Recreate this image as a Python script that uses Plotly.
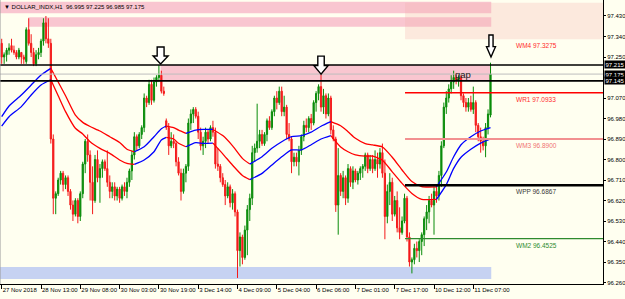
import plotly.graph_objects as go

# ---------------- data ----------------
title_text = "▼ DOLLAR_INDX,H1  96.995 97.225 96.985 97.175"
time_labels = ["27 Nov 2018", "28 Nov 13:00", "29 Nov 08:00", "30 Nov 03:00", "30 Nov 19:00",
               "3 Dec 14:00", "4 Dec 09:00", "5 Dec 04:00", "6 Dec 06:00", "7 Dec 01:00",
               "7 Dec 17:00", "10 Dec 12:00", "11 Dec 07:00"]
time_label_bars = [0, 16, 32, 48, 64, 80, 96, 112, 128, 144, 160, 176, 192]
price_ticks = [97.43, 97.34, 97.25, 97.07, 96.98, 96.89, 96.80, 96.71, 96.62, 96.53, 96.44, 96.35, 96.26]
boxed_prices = [97.215, 97.175, 97.145]

opens = [97.31, 97.25, 97.26, 97.28, 97.30, 97.28, 97.27, 97.25, 97.27, 97.25,
         97.23, 97.37, 97.31, 97.27, 97.22, 97.26, 97.27, 97.32, 97.40, 97.33,
         97.31, 96.89, 96.63, 96.65, 96.71, 96.74, 96.69, 96.72, 96.66, 96.60,
         96.56, 96.62, 96.55, 96.65, 96.78, 96.88, 96.82, 96.70, 96.62, 96.80,
         96.72, 96.76, 96.79, 96.76, 96.70, 96.66, 96.68, 96.64, 96.67, 96.63,
         96.68, 96.66, 96.70, 96.75, 96.82, 96.90, 96.86, 96.91, 96.94, 97.07,
         97.05, 97.13, 97.06, 97.14, 97.16, 97.17, 97.10, 96.97, 96.94, 96.86,
         96.88, 96.87, 96.79, 96.74, 96.66, 96.74, 96.77, 96.96, 97.00, 97.02,
         96.99, 96.92, 96.86, 96.88, 96.92, 96.89, 96.94, 96.92, 96.78, 96.77,
         96.72, 96.69, 96.64, 96.68, 96.61, 96.65, 96.57, 96.40, 96.46, 96.37,
         96.49, 96.58, 96.63, 96.83, 96.85, 96.88, 96.91, 96.87, 96.91, 96.97,
         96.94, 97.01, 97.07, 97.05, 97.10, 97.01, 97.03, 96.91, 96.89, 96.79,
         96.81, 96.79, 96.84, 96.90, 96.95, 96.94, 96.98, 96.96, 97.05, 97.09,
         97.12, 97.03, 97.08, 97.00, 97.07, 96.93, 96.89, 96.60, 96.73, 96.66,
         96.72, 96.63, 96.76, 96.70, 96.75, 96.71, 96.74, 96.76, 96.77, 96.82,
         96.76, 96.80, 96.76, 96.80, 96.78, 96.83, 96.74, 96.55, 96.66, 96.70,
         96.56, 96.62, 96.50, 96.48, 96.53, 96.63, 96.46, 96.35, 96.36, 96.41,
         96.40, 96.44, 96.47, 96.54, 96.57, 96.62, 96.60, 96.66, 96.64, 96.73,
         96.86, 97.03, 97.07, 97.11, 97.14, 97.16, 97.15, 97.16, 97.08, 97.05,
         97.03, 97.05, 97.02, 97.05, 96.95, 96.90, 96.88, 96.86, 96.94, 96.995]
highs = [97.33, 97.27, 97.29, 97.31, 97.33, 97.30, 97.28, 97.29, 97.27, 97.26,
         97.38, 97.42, 97.35, 97.29, 97.28, 97.29, 97.33, 97.42, 97.43, 97.42,
         97.33, 96.91, 96.66, 96.72, 96.75, 96.75, 96.73, 96.73, 96.67, 96.62,
         96.63, 96.63, 96.66, 96.79, 96.89, 96.91, 96.84, 96.77, 96.82, 96.84,
         96.78, 96.80, 96.80, 96.84, 96.73, 96.70, 96.70, 96.68, 96.68, 96.69,
         96.70, 96.72, 96.76, 96.84, 96.92, 96.91, 96.92, 96.95, 97.09, 97.08,
         97.15, 97.15, 97.16, 97.17, 97.215, 97.19, 97.12, 96.98, 96.96, 96.92,
         96.91, 96.88, 96.81, 96.76, 96.76, 96.78, 96.98, 97.02, 97.03, 97.03,
         97.01, 96.94, 96.90, 96.94, 96.93, 96.95, 96.97, 96.94, 96.85, 96.78,
         96.74, 96.71, 96.70, 96.69, 96.67, 96.66, 96.58, 96.48, 96.47, 96.51,
         96.60, 96.65, 96.86, 96.87, 97.045, 96.93, 96.93, 96.92, 96.98, 96.99,
         97.02, 97.08, 97.10, 97.12, 97.12, 97.08, 97.04, 96.96, 96.90, 96.83,
         96.83, 96.86, 96.91, 96.97, 96.98, 96.99, 97.00, 97.06, 97.10, 97.13,
         97.175, 97.11, 97.09, 97.09, 97.08, 96.95, 96.90, 96.85, 96.74, 96.75,
         96.73, 96.78, 96.77, 96.77, 96.76, 96.75, 96.77, 96.78, 96.83, 96.83,
         96.82, 96.82, 96.84, 96.83, 96.85, 96.87, 96.80, 96.69, 96.74, 96.72,
         96.64, 96.66, 96.59, 96.55, 96.65, 96.64, 96.48, 96.37, 96.43, 96.44,
         96.45, 96.48, 96.55, 96.60, 96.64, 96.65, 96.68, 96.69, 96.75, 96.88,
         97.05, 97.10, 97.13, 97.17, 97.19, 97.18, 97.17, 97.17, 97.09, 97.07,
         97.07, 97.08, 97.12, 97.06, 96.96, 96.94, 96.90, 96.96, 97.02, 97.225]
lows = [97.22, 97.22, 97.23, 97.26, 97.27, 97.26, 97.24, 97.24, 97.22, 97.22,
        97.22, 97.30, 97.25, 97.21, 97.21, 97.24, 97.25, 97.30, 97.31, 97.29,
        96.87, 96.56, 96.56, 96.64, 96.69, 96.66, 96.67, 96.64, 96.58, 96.53,
        96.55, 96.52, 96.53, 96.63, 96.74, 96.79, 96.62, 96.56, 96.61, 96.70,
        96.61, 96.72, 96.75, 96.68, 96.63, 96.63, 96.62, 96.62, 96.61, 96.62,
        96.64, 96.63, 96.68, 96.71, 96.80, 96.84, 96.85, 96.89, 96.92, 97.03,
        97.04, 97.04, 97.05, 97.12, 97.14, 97.09, 97.08, 96.93, 96.82, 96.85,
        96.85, 96.77, 96.73, 96.62, 96.65, 96.70, 96.75, 96.93, 96.96, 96.98,
        96.89, 96.84, 96.82, 96.85, 96.87, 96.88, 96.90, 96.76, 96.75, 96.70,
        96.68, 96.60, 96.63, 96.59, 96.58, 96.55, 96.28, 96.33, 96.34, 96.36,
        96.38, 96.53, 96.60, 96.79, 96.83, 96.85, 96.86, 96.86, 96.88, 96.93,
        96.93, 96.99, 97.02, 97.04, 96.99, 96.99, 96.89, 96.88, 96.74, 96.77,
        96.77, 96.73, 96.82, 96.88, 96.92, 96.92, 96.93, 96.95, 97.01, 97.06,
        97.01, 97.00, 96.98, 96.99, 96.91, 96.88, 96.57, 96.47, 96.64, 96.63,
        96.60, 96.61, 96.68, 96.67, 96.70, 96.69, 96.71, 96.72, 96.75, 96.74,
        96.75, 96.74, 96.75, 96.72, 96.76, 96.72, 96.45, 96.52, 96.60, 96.53,
        96.55, 96.48, 96.45, 96.47, 96.52, 96.44, 96.33, 96.30, 96.34, 96.37,
        96.35, 96.38, 96.42, 96.49, 96.52, 96.59, 96.47, 96.61, 96.62, 96.68,
        96.85, 97.00, 97.05, 97.09, 97.11, 97.13, 97.12, 97.06, 97.03, 97.01,
        97.01, 97.01, 97.00, 96.92, 96.88, 96.83, 96.84, 96.81, 96.91, 96.985]
closes = [97.25, 97.26, 97.28, 97.29, 97.28, 97.27, 97.25, 97.28, 97.25, 97.24,
          97.37, 97.31, 97.27, 97.22, 97.26, 97.27, 97.32, 97.40, 97.33, 97.31,
          96.89, 96.63, 96.65, 96.71, 96.74, 96.69, 96.72, 96.66, 96.60, 96.56,
          96.62, 96.55, 96.65, 96.78, 96.88, 96.82, 96.70, 96.62, 96.80, 96.72,
          96.76, 96.79, 96.76, 96.70, 96.66, 96.68, 96.64, 96.67, 96.63, 96.68,
          96.66, 96.70, 96.75, 96.82, 96.90, 96.86, 96.91, 96.94, 97.07, 97.05,
          97.13, 97.06, 97.14, 97.16, 97.17, 97.10, 97.09, 96.94, 96.86, 96.88,
          96.87, 96.79, 96.74, 96.66, 96.74, 96.77, 96.96, 97.00, 97.02, 96.99,
          96.92, 96.86, 96.88, 96.92, 96.89, 96.94, 96.92, 96.78, 96.77, 96.72,
          96.69, 96.64, 96.68, 96.61, 96.65, 96.57, 96.40, 96.46, 96.37, 96.49,
          96.58, 96.63, 96.83, 96.85, 96.88, 96.91, 96.87, 96.91, 96.97, 96.94,
          97.01, 97.07, 97.05, 97.10, 97.01, 97.03, 96.91, 96.89, 96.79, 96.81,
          96.79, 96.84, 96.90, 96.95, 96.94, 96.98, 96.96, 97.05, 97.09, 97.12,
          97.03, 97.08, 97.00, 97.07, 96.93, 96.89, 96.60, 96.73, 96.66, 96.72,
          96.63, 96.76, 96.70, 96.75, 96.71, 96.74, 96.76, 96.77, 96.82, 96.76,
          96.80, 96.76, 96.80, 96.78, 96.83, 96.74, 96.55, 96.66, 96.70, 96.56,
          96.62, 96.50, 96.48, 96.53, 96.63, 96.46, 96.35, 96.36, 96.41, 96.40,
          96.44, 96.47, 96.54, 96.57, 96.62, 96.60, 96.66, 96.64, 96.73, 96.86,
          97.03, 97.07, 97.11, 97.14, 97.16, 97.15, 97.16, 97.08, 97.05, 97.03,
          97.05, 97.02, 97.05, 96.95, 96.90, 96.88, 96.86, 96.94, 97.00, 97.175]

# channel (upper / lower band) sampled along the bars, with trend colour of each following segment
ch_bar = [0, 3, 8, 12, 16, 20, 23, 26, 30, 33, 36, 40, 44, 48, 51, 54, 58, 62, 65, 67,
          70, 72, 75, 79, 82, 86, 90, 94, 98, 101, 106, 110, 114, 118, 122, 126, 130, 134, 138, 141,
          144, 148, 151, 155, 159, 163, 167, 171, 177, 181, 184, 187, 191, 195, 199]
ch_up = [96.988, 97.035, 97.083, 97.127, 97.171, 97.20, 97.14, 97.08, 96.995, 96.963,
         96.945, 96.925, 96.90, 96.875, 96.845, 96.834, 96.856, 96.90, 96.935, 96.947,
         96.94, 96.929, 96.915, 96.929, 96.932, 96.932, 96.905, 96.86, 96.805, 96.78,
         96.812, 96.849, 96.878, 96.90, 96.905, 96.92, 96.946, 96.966, 96.948, 96.922,
         96.893, 96.87, 96.864, 96.855, 96.81, 96.754, 96.703, 96.681, 96.68, 96.745,
         96.812, 96.865, 96.90, 96.925, 96.94]
ch_lo = [96.947, 96.988, 97.032, 97.083, 97.127, 97.15, 97.08, 97.01, 96.937, 96.912,
         96.878, 96.849, 96.827, 96.798, 96.783, 96.779, 96.798, 96.834, 96.886, 96.897,
         96.89, 96.871, 96.856, 96.874, 96.871, 96.872, 96.825, 96.775, 96.73, 96.712,
         96.739, 96.776, 96.812, 96.842, 96.842, 96.865, 96.89, 96.905, 96.855, 96.834,
         96.82, 96.815, 96.815, 96.797, 96.746, 96.695, 96.651, 96.625, 96.625, 96.69,
         96.761, 96.81, 96.845, 96.872, 96.89]
ch_trend = list("bbbbb" "rrrrrrrrrr" "bbbb" "rrr" "bbb" "rrrr" "bbbbbbbb" "rrrrrrrrrrr" "bbbbbbb")

pivot_names = ["WM4", "WR1", "WM3", "WPP", "WM2"]
pivot_values = [97.3275, 97.0933, 96.8900, 96.6867, 96.4525]
pivot_text_colors = ["#FF2A2A", "#FF2A2A", "#F07272", "#3A3A3A", "#2E8B2E"]
pivot_line_colors = [None, "#FF0000", "#F29090", "#000000", "#2E8B2E"]
pivot_line_widths = [0, 1.6, 2, 2.6, 1.1]
pivot_start_bar = 164.2
pivot_label_bar = 217.7

zone_start = [None, 10.8, 64.7, None]
zone_lo = [97.442, 97.383, 97.145, 96.275]
zone_hi = [97.493, 97.424, 97.215, 96.328]
zone_colors = ["#F9C6D0", "#F9C6D0", "#F9C6D0", "#C6D2F2"]
zone_end_bar = 199.3
wm4_zone = (164.2, 97.3275, 97.488)

level_lines = [97.215, 97.145]
bid_line = 97.175

arrow_bars = [64.7, 130.0, 199.2]
arrow_prices = [97.219, 97.175, 97.250]
arrow_sizes = [(15, 17), (14, 18), (9, 22)]
gap_label = ("gap", 187.8, 97.173)

# ---------------- figure ----------------
x_lo, x_hi = -0.69, 244.8
y_lo, y_hi = 96.2535, 97.5002
BG = "#FFFFF0"
FONT = "Liberation Sans, Arial, sans-serif"

fig = go.Figure()
bars = list(range(len(closes)))

fig.add_trace(go.Candlestick(
    x=bars, open=opens, high=highs, low=lows, close=closes,
    increasing=dict(line=dict(color="#0A8C0A", width=1), fillcolor="#0A8C0A"),
    decreasing=dict(line=dict(color="#F41A1A", width=1), fillcolor="#F41A1A"),
    whiskerwidth=0, showlegend=False, hoverinfo="skip"))

# channel lines split into colour runs
col_map = {"b": "#0000FF", "r": "#FF0000"}
n = len(ch_bar)
k = 0
while k < n - 1:
    c = ch_trend[k]
    j = k
    while j < n - 1 and ch_trend[j] == c:
        j += 1
    for series in (ch_up, ch_lo):
        fig.add_trace(go.Scatter(x=ch_bar[k:j + 1], y=series[k:j + 1], mode="lines",
                                 line=dict(color=col_map[c], width=1.3, shape="spline", smoothing=0.6),
                                 showlegend=False, hoverinfo="skip"))
    k = j

shapes = []
# zones
for s, lo, hi, col in zip(zone_start, zone_lo, zone_hi, zone_colors):
    shapes.append(dict(type="rect", xref="x", yref="y", x0=x_lo if s is None else s, x1=zone_end_bar,
                       y0=lo, y1=hi, fillcolor=col, line=dict(width=0), layer="below"))
shapes.append(dict(type="rect", xref="x", yref="y", x0=wm4_zone[0], x1=x_hi, y0=wm4_zone[1], y1=wm4_zone[2],
                   fillcolor="rgba(244,175,172,0.28)", line=dict(width=0), layer="below"))
# level lines
for lv in level_lines:
    shapes.append(dict(type="line", xref="paper", yref="y", x0=0, x1=1, y0=lv, y1=lv,
                       line=dict(color="#000000", width=1.6), layer="above"))
shapes.append(dict(type="line", xref="paper", yref="y", x0=0, x1=1, y0=bid_line, y1=bid_line,
                   line=dict(color="#BDBDBD", width=1), layer="above"))
# pivot lines
for v, lc, lw in zip(pivot_values, pivot_line_colors, pivot_line_widths):
    if lc is None:
        continue
    shapes.append(dict(type="line", xref="x", yref="y", x0=pivot_start_bar, x1=x_hi, y0=v, y1=v,
                       line=dict(color=lc, width=lw), layer="above"))
# hollow down arrows
for xb, yp, (w, h) in zip(arrow_bars, arrow_prices, arrow_sizes):
    hh = h * 0.47
    sw = w * 0.46
    path = (f"M 0 0 L {-w/2} {hh} L {-sw/2} {hh} L {-sw/2} {h} L {sw/2} {h} "
            f"L {sw/2} {hh} L {w/2} {hh} Z")
    shapes.append(dict(type="path", xref="x", yref="y", xsizemode="pixel", ysizemode="pixel",
                       xanchor=xb, yanchor=yp, path=path, fillcolor="#FFFFFF",
                       line=dict(color="#000000", width=1.4), layer="above"))
# left frame
shapes.append(dict(type="line", xref="paper", yref="paper", x0=0, x1=0, y0=0, y1=1,
                   line=dict(color="#9A9A9A", width=1)))

annotations = []
annotations.append(dict(text=title_text, xref="paper", yref="paper", x=0.004, y=1, xanchor="left",
                        yanchor="top", yshift=-1.5, showarrow=False,
                        font=dict(family=FONT, size=6, color="#000000")))
for name, v, tc in zip(pivot_names, pivot_values, pivot_text_colors):
    annotations.append(dict(text=f"{name} {v:.4f}", xref="x", yref="y", x=pivot_label_bar, y=v,
                            xanchor="center", yanchor="top", yshift=-1, showarrow=False,
                            font=dict(family=FONT, size=6.5, color=tc)))
for bp in boxed_prices:
    annotations.append(dict(text=f"{bp:.3f}", xref="paper", yref="y", x=1, y=bp, xanchor="left",
                            yanchor="middle", xshift=1, showarrow=False, bgcolor="#000000",
                            borderpad=0.5, font=dict(family=FONT, size=6, color="#FFFFFF")))
annotations.append(dict(text=gap_label[0], xref="x", yref="y", x=gap_label[1], y=gap_label[2],
                        xanchor="center", yanchor="middle", showarrow=False,
                        font=dict(family=FONT, size=9.5, color="#1A1A1A")))

fig.update_layout(
    width=625, height=299, margin=dict(l=0, r=22, t=0, b=15),
    paper_bgcolor=BG, plot_bgcolor=BG, template="none", showlegend=False,
    shapes=shapes, annotations=annotations,
    xaxis=dict(range=[x_lo, x_hi], tickvals=time_label_bars, ticktext=time_labels,
               ticks="outside", ticklen=4, tickcolor="#000000", tickwidth=1, tickangle=0,
               ticklabelposition="outside right",
               tickfont=dict(family=FONT, size=6, color="#000000"),
               showline=True, linecolor="#000000", linewidth=1, showgrid=False, zeroline=False,
               rangeslider=dict(visible=False), automargin=False, fixedrange=True),
    yaxis=dict(range=[y_lo, y_hi], side="right", tickvals=price_ticks,
               ticktext=[f"{p:.3f}" for p in price_ticks],
               ticks="outside", ticklen=2, tickcolor="#000000", tickwidth=1,
               tickfont=dict(family=FONT, size=6, color="#000000"),
               showline=True, linecolor="#000000", linewidth=1, showgrid=False, zeroline=False,
               automargin=False, fixedrange=True),
)

fig.write_html("out.html")
